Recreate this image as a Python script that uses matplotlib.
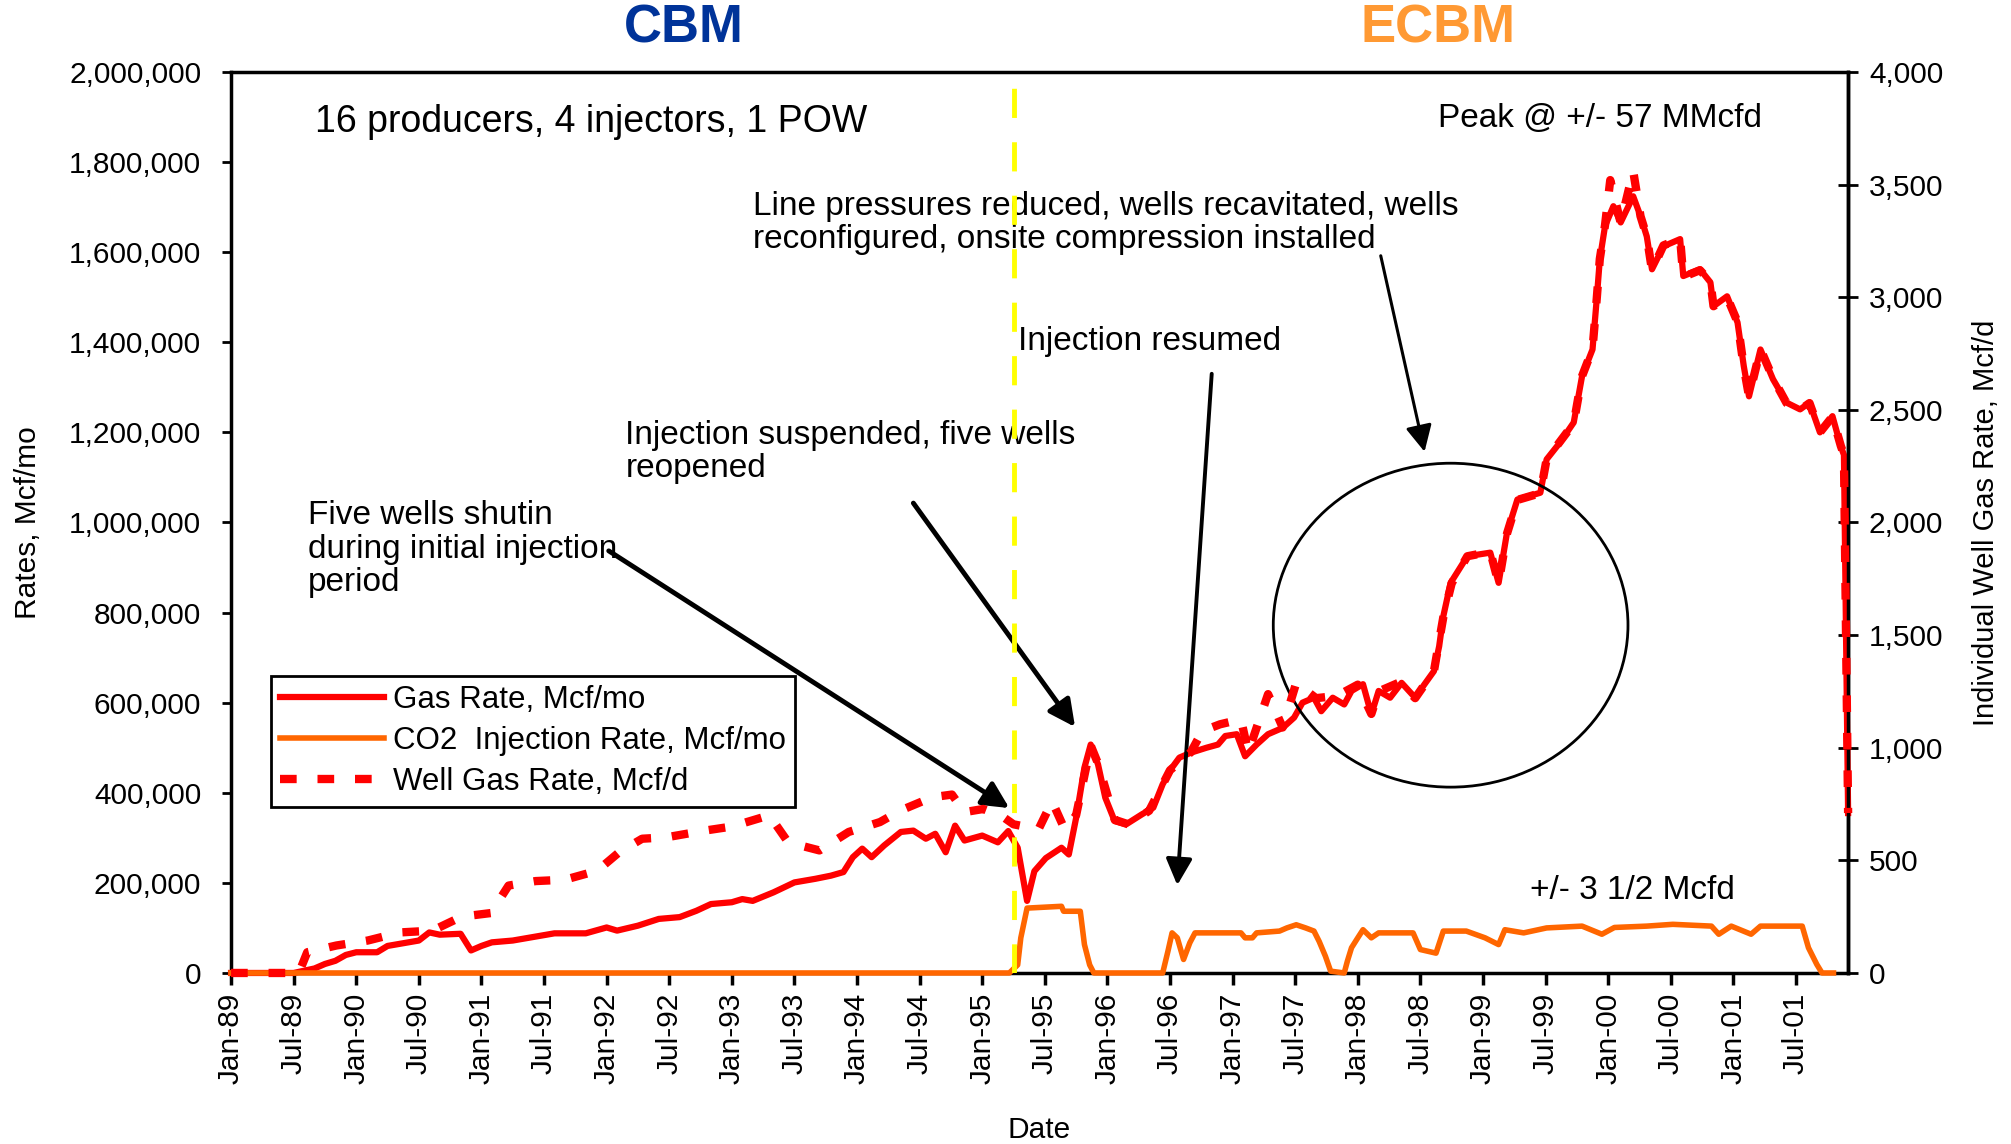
import matplotlib
matplotlib.use("Agg")
import matplotlib.pyplot as plt
from matplotlib.patches import Ellipse
from matplotlib.ticker import FuncFormatter

plt.rcParams['font.family'] = ['Liberation Sans', 'DejaVu Sans']

# x axis is months counted from Jan-89
tick_months = list(range(0, 151, 6))
tick_labels = ['Jan-89', 'Jul-89', 'Jan-90', 'Jul-90', 'Jan-91', 'Jul-91', 'Jan-92',
               'Jul-92', 'Jan-93', 'Jul-93', 'Jan-94', 'Jul-94', 'Jan-95', 'Jul-95',
               'Jan-96', 'Jul-96', 'Jan-97', 'Jul-97', 'Jan-98', 'Jul-98', 'Jan-99',
               'Jul-99', 'Jan-00', 'Jul-00', 'Jan-01', 'Jul-01']

# field gas rate, thousand Mcf/mo
gas_month = [0, 6, 7, 8, 9, 10, 11, 12, 14, 15, 16, 18, 19, 20, 22, 23, 24, 25, 27, 29,
             31, 34, 36, 37, 39, 41, 43, 44.6, 46, 48, 49, 50, 52, 54, 56, 57.5, 58.7,
             59.6, 60.5, 61.4, 62.6, 64.2, 65.4, 66.6, 67.5, 68.5, 69.4, 70.3, 72, 73.5,
             74.5, 75.4, 76.3, 77, 78.1, 79.6, 80.3, 81, 81.8, 82.4, 83.1, 83.8, 84.7,
             85.8, 87.3, 88.4, 89.3, 90.2, 90.9, 92, 93.5, 94.6, 95.3, 96.4, 97.2, 98.3,
             99.4, 100.8, 101.9, 102.7, 103.8, 104.5, 105.6, 106.7, 107.4, 108.5, 109.3,
             110, 111.1, 112.2, 113.5, 114.4, 115.3, 115.8, 116.2, 116.9, 118.5, 120.7,
             121.5, 122.3, 123.3, 125.5, 126.1, 127.4, 128.7, 129.5, 130.5, 130.9, 131.2,
             131.7, 132.5, 133.2, 134.4, 135.1, 135.7, 136.2, 137.3, 138.9, 139.2, 140.8,
             141.8, 142.1, 143.4, 144.4, 145, 145.5, 146.6, 147.8, 149.1, 150.4, 151.3,
             152.3, 153.5, 154.3, 154.6, 155]
gas_rate = [0, 0, 5, 10, 20, 27, 40, 46, 46, 60, 64, 72, 90, 85, 87, 50, 60, 68, 72, 80,
            88, 88, 101, 94, 105, 120, 124, 138, 153, 157, 164, 160, 179, 201, 209, 216, 224,
            257, 276, 257, 283, 313, 316, 298, 309, 268, 327, 294, 305, 290,
            315, 278, 160, 226, 255, 278, 263, 344, 456, 507, 463, 389, 337,
            330, 352, 367, 419, 456, 478, 489, 500, 507, 526, 530, 481, 507,
            530, 544, 567, 600, 611, 581, 611, 596, 626, 641, 574,
            626, 611, 644, 611, 641, 670, 725, 792, 866, 925, 933,
            866, 977, 1051, 1066, 1140, 1178, 1222, 1325, 1384, 1495, 1584,
            1658, 1702, 1666, 1724, 1680, 1635, 1562, 1613, 1629, 1547, 1562,
            1533, 1480, 1502, 1444, 1347, 1280, 1384, 1318, 1266, 1251, 1266,
            1200, 1236, 1169, 1150, 355]

# CO2 injection rate, thousand Mcf/mo
co2_month = [0, 74.6, 75.4, 75.7, 76.3, 79.6, 79.8, 81.4, 81.8, 82.3, 82.7, 89.3, 89.8,
             90.2, 90.7, 91.3, 91.9, 92.4, 96.8, 97.2, 97.9, 98.3, 100.5, 101.2, 102.1,
             103, 103.8, 104.3, 104.9, 105.4, 106.7, 107, 107.4, 108, 108.5, 109.3, 110,
             113.3, 114, 115.5, 116.2, 118.4, 120.2, 121.5, 122.1, 123.9, 126.1, 129.5,
             131.4, 132.6, 135.7, 138.2, 141.9, 142.6, 143.8, 145.7, 146.6, 150.6, 151.2,
             152, 152.5, 153.6]
co2_rate = [0, 0, 18, 78, 144, 148, 137, 137, 63, 18, 0, 0, 48,
            89, 78, 30, 67, 89, 89, 78, 78, 89, 93, 100, 107,
            100, 93, 70, 37, 4, 0, 26, 56, 78, 96, 78, 89,
            89, 52, 44, 93, 93, 78, 63, 96, 89, 100, 104,
            86, 101, 104, 108, 104, 86, 104, 86, 104, 104, 56,
            19, 0, 0]

# individual well gas rate, Mcf/d
well_month = [0, 6.5, 7.3, 10.1, 13.1, 16.2, 19.3, 22.1, 24.9, 26.6, 29.2, 32, 35.1, 37.2,
              39.4, 41.7, 45.4, 48, 51.6, 53.4, 56.4, 59.2, 62.2, 64.2, 67.2, 69.1, 70.3,
              72.1, 73.9, 75, 77.4, 78.7, 79.9, 81, 82.4, 83.1, 84.7, 86, 88, 90, 92, 93.1,
              94.8, 96.8, 97.5, 99.4, 100.8, 102.1, 104, 106, 108, 109.3, 110, 112, 113.5,
              115.3, 116.2, 117, 118.5, 120.7, 121.5, 122.3, 123.3, 125.5, 126.1, 127.4,
              128.7, 129.5, 130.5, 130.9, 131.2, 131.7, 132.2, 133.2, 134.4, 135.1, 135.7,
              136.2, 137.3, 138.9, 139.2, 140.8, 141.8, 142.1, 143.4, 144.4, 145, 145.5,
              146.6, 147.8, 149.1, 150.4, 151.3, 152.3, 153.5, 154.3, 154.6, 155]
well_rate = [0, 0, 92, 122, 144, 180, 188, 250, 266, 388, 408, 414, 454, 536,
             596, 602, 632, 650, 700, 580, 544, 626, 670, 722, 780, 792, 714,
             728, 696, 660, 638, 762, 638, 700, 1010, 930, 680, 660, 720, 900, 980, 1074,
             1104, 1126, 980, 1238, 1090, 1288, 1220, 1230, 1280, 1150, 1250, 1290, 1220,
             1340, 1580, 1730, 1850, 1870, 1730, 1950, 2100, 2130, 2280, 2360,
             2440, 2650, 2770, 2990, 3170, 3320, 3520, 3330, 3560, 3360, 3270,
             3120, 3230, 3260, 3090, 3120, 3070, 2960, 3000, 2890, 2690, 2560,
             2770, 2640, 2530, 2500, 2530, 2400, 2470, 2340, 2300, 710]

fig = plt.figure(figsize=(20.11, 11.44), dpi=100)
ax = fig.add_axes([0.1149, 0.1495, 0.8041, 0.7876])
ax2 = ax.twinx()

l1, = ax.plot(gas_month, [v * 1000 for v in gas_rate], color='#FF0000', lw=4.5,
              label='Gas Rate, Mcf/mo', zorder=3, clip_on=False)
l2, = ax.plot(co2_month, [v * 1000 for v in co2_rate], color='#FF6600', lw=4,
              label='CO2  Injection Rate, Mcf/mo', zorder=4, clip_on=False)
l3, = ax2.plot(well_month, well_rate, color='#FF0000', lw=6, ls=(0, (2, 2.5)),
               label='Well Gas Rate, Mcf/d', zorder=3, clip_on=False)

ax2.axvline(75, color='#FFFF00', lw=3.5, ls=(0, (6, 5)), zorder=10)

ax.set_xlim(0, 155)
ax.set_ylim(0, 2000000)
ax2.set_ylim(0, 4000)
ax.set_yticks(range(0, 2000001, 200000))
ax2.set_yticks(range(0, 4001, 500))
ax.yaxis.set_major_formatter(FuncFormatter(lambda v, p: f'{v:,.0f}'))
ax2.yaxis.set_major_formatter(FuncFormatter(lambda v, p: f'{v:,.0f}'))
ax.set_xticks(tick_months)
ax.set_xticklabels(tick_labels, rotation=90)

ax.tick_params(axis='y', direction='out', length=6.5, width=2, pad=15, labelsize=21.5)
ax.tick_params(axis='x', direction='out', length=8.5, width=2.5, pad=6, labelsize=21.5)
ax2.tick_params(axis='y', direction='inout', length=14, width=2, pad=8, labelsize=21.5)
for s in ax.spines.values():
    s.set_linewidth(2.5)
# only the right spine on the twin, so the orange line at zero sits over the x axis
for k in ('left', 'bottom', 'top'):
    ax2.spines[k].set_visible(False)
ax2.spines['right'].set_linewidth(2.5)

ax.set_ylabel('Rates, Mcf/mo', fontsize=21.5)
ax.yaxis.set_label_coords(-0.117, 0.5)
ax2.set_ylabel('Individual Well Gas Rate, Mcf/d', fontsize=21)
ax2.yaxis.set_label_coords(1.0767, 0.5)
ax.set_xlabel('Date', fontsize=21.5, va='top')
ax.xaxis.set_label_coords(0.5, -0.159)

fig.text(0.340, 0.9755, 'CBM', color='#003399', fontsize=38, fontweight='bold',
         ha='center', va='center')
fig.text(0.715, 0.9755, 'ECBM', color='#FF9933', fontsize=38, fontweight='bold',
         ha='center', va='center')

tkw = dict(fontsize=24, ha='left', va='center', linespacing=1.1, zorder=6)
ax.text(8.05, 1889000, '16 producers, 4 injectors, 1 POW', **dict(tkw, fontsize=27))
ax.text(115.7, 1896000, 'Peak @ +/- 57 MMcfd', **tkw)
ax.text(50, 1665000, 'Line pressures reduced, wells recavitated, wells\n'
        'reconfigured, onsite compression installed', **tkw)
ax.text(75.4, 1401000, 'Injection resumed', **tkw)
ax.text(37.8, 1157000, 'Injection suspended, five wells\nreopened', **tkw)
ax.text(7.4, 941000, 'Five wells shutin\nduring initial injection\nperiod', **tkw)
ax.text(124.5, 182000, '+/- 3 1/2 Mcfd', **tkw)

def arrow(tail, head, lw):
    ax.annotate('', xy=head, xytext=tail, zorder=7,
                arrowprops=dict(arrowstyle='-|>,head_length=0.8,head_width=0.4',
                                lw=lw, color='black', mutation_scale=20,
                                shrinkA=0, shrinkB=0))

arrow((36.2, 937000), (74.6, 366000), 3.5)
arrow((65.4, 1043000), (80.9, 546000), 3.5)
arrow((94.0, 1330000), (90.7, 195000), 2.8)
arrow((110.2, 1592000), (114.4, 1157000), 2.2)

ax.add_patch(Ellipse((116.9, 772000), width=34.0, height=719000, fill=False,
                     lw=2, ec='black', zorder=5))

leg = ax2.legend(handles=[l1, l2, l3], loc='upper left', bbox_to_anchor=(0.0247, 0.3296),
                 borderaxespad=0, fontsize=22.5, frameon=True, fancybox=False,
                 edgecolor='black', framealpha=1, handlelength=3.3, handletextpad=0.3,
                 labelspacing=0.35, borderpad=0.3)
leg.get_frame().set_linewidth(2)
leg.set_zorder(20)

fig.savefig('out.png', dpi=100)
